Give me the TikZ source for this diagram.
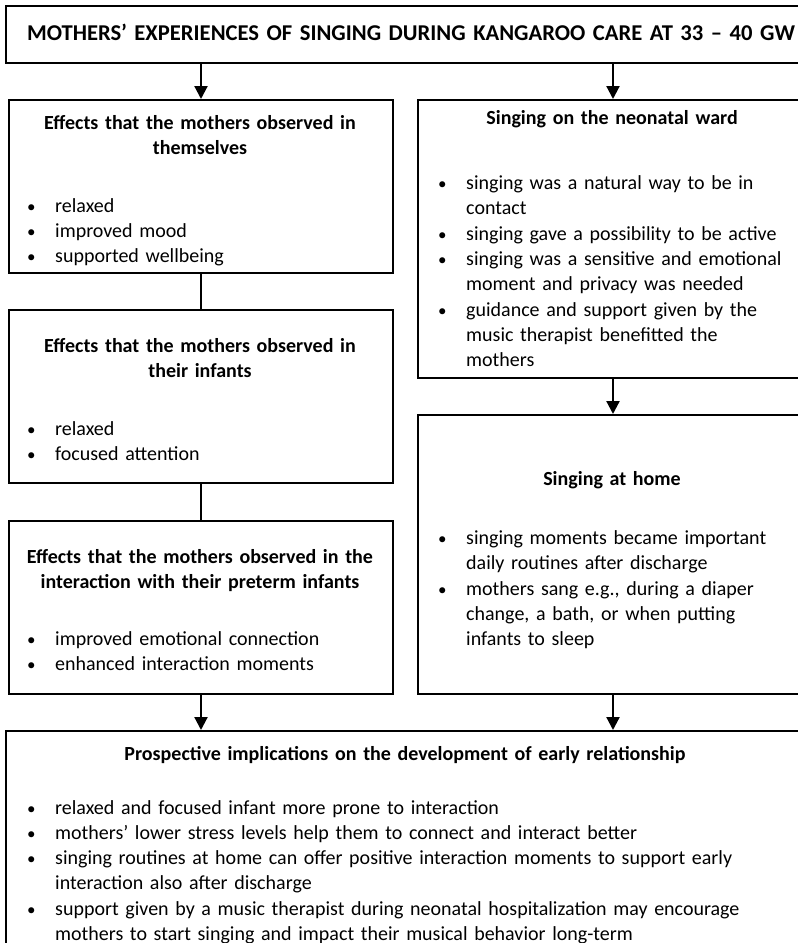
\documentclass[tikz,border=0pt]{standalone}
\usepackage{fontspec}
\usepackage{graphicx}
\setmainfont{Carlito}
\usetikzlibrary{arrows.meta}
\setlength{\lineskip}{0pt}
\newcommand\mystrut{\rule[-7.5pt]{0pt}{25pt}}
\newcommand\bitem[2][335pt]{\par\noindent\makebox[28pt][l]{\scalebox{0.85}{\textbullet}}\parbox[t]{#1}{\raggedright\mystrut #2\mystrut}}
\begin{document}
\begin{tikzpicture}[x=1pt,y=-1pt,
  box/.style={draw, line width=2pt, inner sep=0pt, anchor=north west},
  ttl/.style={font=\fontsize{20}{25}\selectfont\bfseries, text width=375pt, align=center, anchor=north, inner sep=0pt},
  bl/.style={font=\fontsize{20}{25}\selectfont, anchor=north west, inner sep=0pt},
  conn/.style={line width=2.2pt},
  arr/.style={line width=2.2pt, -{Triangle[length=13pt,width=13pt]}}]
\useasboundingbox (0,0) rectangle (798,943);
\fill[white] (0,0) rectangle (798,943);
% boxes
\node[box, minimum width=800pt, minimum height=57pt] (top) at (5,5) {};
\node[box, minimum width=384pt, minimum height=173pt] (lb1) at (8,99) {};
\node[box, minimum width=384pt, minimum height=173pt] (lb2) at (8,309) {};
\node[box, minimum width=384pt, minimum height=173pt] (lb3) at (8,520) {};
\node[box, minimum width=390pt, minimum height=278pt] (rb1) at (417,99) {};
\node[box, minimum width=390pt, minimum height=279pt] (rb2) at (417,414) {};
\node[box, minimum width=810pt, minimum height=240pt] (bot) at (5,730) {};
% texts
\node[ttl, font=\fontsize{22.6}{27}\selectfont\bfseries, text width=790pt] (ttop) at (411,22.5) {\mystrut MOTHERS’ EXPERIENCES OF SINGING DURING KANGAROO CARE AT 33 – 40 GW};
\node[ttl] (t1) at (200,111.5) {\mystrut Effects that the mothers observed in\\themselves};
\node[bl, text width=365pt] (b1) at (27,187.5) {\bitem{relaxed}\bitem{improved mood}\bitem{supported wellbeing}};
\node[ttl] (t2) at (200,334.5) {\mystrut Effects that the mothers observed in\\their infants};
\node[bl, text width=365pt] (b2) at (27,410.5) {\bitem{relaxed}\bitem{focused attention}};
\node[ttl] (t3) at (200,545.5) {\mystrut Effects that the mothers observed in the\\interaction with their preterm infants};
\node[bl, text width=365pt] (b3) at (27,620.5) {\bitem{improved emotional connection}\bitem{enhanced interaction moments}};
\node[ttl] (t4) at (612,106.5) {\mystrut Singing on the neonatal ward};
\node[bl, text width=365pt] (b4) at (438,164.5) {\bitem{singing was a natural way to be in\\contact}\bitem{singing gave a possibility to be active}\bitem{singing was a sensitive and emotional\\moment and privacy was needed}\bitem{guidance and support given by the\\music therapist benefitted the\\mothers}};
\node[ttl] (t5) at (612,467.5) {\mystrut Singing at home};
\node[bl, text width=365pt] (b5) at (438,519.5) {\bitem{singing moments became important\\daily routines after discharge}\bitem{mothers sang e.g., during a diaper\\change, a bath, or when putting\\infants to sleep}};
\node[ttl, text width=790pt] (t6) at (405,742.5) {\mystrut Prospective implications on the development of early relationship};
\node[bl, text width=770pt] (b6) at (27,789.5) {\bitem[740pt]{relaxed and focused infant more prone to interaction}\bitem[740pt]{mothers’ lower stress levels help them to connect and interact better}\bitem[740pt]{singing routines at home can offer positive interaction moments to support early\\interaction also after discharge}\bitem[740pt]{support given by a music therapist during neonatal hospitalization may encourage\\mothers to start singing and impact their musical behavior long-term}};
% connectors
\draw[arr] (lb1.north |- top.south) -- (lb1.north);
\draw[arr] (rb1.north |- top.south) -- (rb1.north);
\draw[conn] (lb1.south) -- (lb2.north);
\draw[conn] (lb2.south) -- (lb3.north);
\draw[arr] (rb1.south) -- (rb2.north);
\draw[arr] (lb3.south) -- (lb3.south |- bot.north);
\draw[arr] (rb2.south) -- (rb2.south |- bot.north);
\end{tikzpicture}
\end{document}
